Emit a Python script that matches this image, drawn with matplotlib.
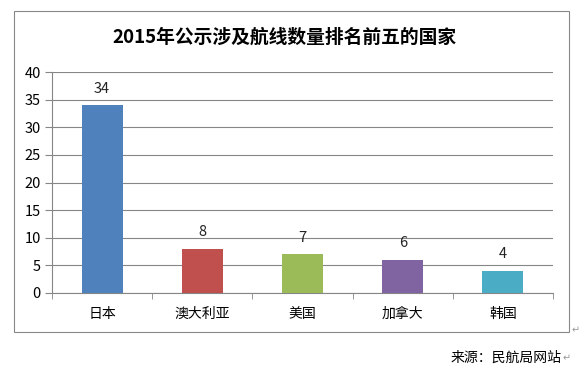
import matplotlib
matplotlib.use("Agg")
import matplotlib.pyplot as plt
from matplotlib.patches import Rectangle

plt.rcParams['font.family'] = ['Noto Sans CJK SC', 'DejaVu Sans']

title = "2015年公示涉及航线数量排名前五的国家"
countries = ["日本", "澳大利亚", "美国", "加拿大", "韩国"]
routes = [34, 8, 7, 6, 4]
bar_colors = ["#4F81BD", "#C0504D", "#9BBB59", "#8064A2", "#4BACC6"]
y_ticks = [0, 5, 10, 15, 20, 25, 30, 35, 40]
source = "来源：民航局网站"

fig = plt.figure(figsize=(5.88, 3.83), dpi=100)
ax = fig.add_axes([52 / 588, 1 - 293 / 383, 501 / 588, 221 / 383])

x = range(len(countries))
ax.bar(x, routes, width=0.41, color=bar_colors, zorder=3)
for i, v in zip(x, routes):
    ax.text(i, v + 3, str(v), ha="center", va="center", fontsize=10.5, color="#222222")

ax.set_xlim(-0.5, len(countries) - 0.5)
ax.set_ylim(0, 40)
ax.set_yticks(y_ticks)
ax.set_yticklabels([str(t) for t in y_ticks], fontsize=10.5)
ax.set_xticks(list(x))
ax.set_xticklabels(countries, fontsize=10)
ax.tick_params(axis="x", length=0, pad=10)
ax.tick_params(axis="y", length=5, color="#868686", pad=3)
# category boundary ticks
ax.set_xticks([i - 0.5 for i in range(len(countries) + 1)], minor=True)
ax.tick_params(axis="x", which="minor", length=4, color="#868686")
ax.grid(True, axis="y", color="#868686", linewidth=0.8, zorder=0)
for side in ["top", "right"]:
    ax.spines[side].set_visible(False)
for side in ["left", "bottom"]:
    ax.spines[side].set_color("#868686")

# outer chart border
fig.patches.append(Rectangle((14 / 588, 1 - 332 / 383), 555 / 588, 321 / 383,
                             transform=fig.transFigure, fill=False,
                             edgecolor="#888888", linewidth=0.8))
fig.text(0.5 - 10 / 588, 1 - 37 / 383, title, ha="center", va="center",
         fontsize=13.5, fontweight="heavy")
fig.text(572 / 588, 1 - 330 / 383, "↵", ha="left", va="center", fontsize=7, color="#999999")
fig.text(562 / 588, 1 - 358 / 383, source, ha="right", va="center", fontsize=10)
fig.text(563 / 588, 1 - 358 / 383, "↵", ha="left", va="center", fontsize=7, color="#999999")

fig.savefig("out.png", dpi=100)
